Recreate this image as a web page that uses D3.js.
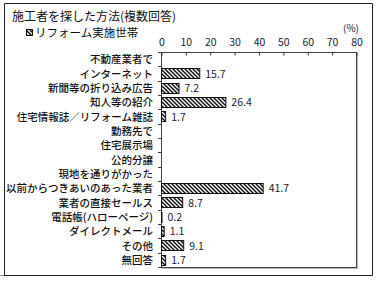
<!DOCTYPE html>
<html>
<head>
<meta charset="utf-8">
<script src="https://cdn.jsdelivr.net/npm/d3@7"></script>
<style>
  body { margin: 0; background: #fff; }
  svg { display: block; font-family: "Noto Sans CJK JP", sans-serif; }
</style>
</head>
<body>
<div id="chart"></div>
<script>
// data
const categories = [
  "不動産業者で", "インターネット", "新聞等の折り込み広告", "知人等の紹介",
  "住宅情報誌／リフォーム雑誌", "勤務先で", "住宅展示場", "公的分譲",
  "現地を通りがかった", "以前からつきあいのあった業者", "業者の直接セールス",
  "電話帳(ハローページ)", "ダイレクトメール", "その他", "無回答"
];
const values = [null, 15.7, 7.2, 26.4, 1.7, null, null, null, null, 41.7, 8.7, 0.2, 1.1, 9.1, 1.7];
const xTicks = [0, 10, 20, 30, 40, 50, 60, 70, 80];
const title = "施工者を探した方法(複数回答)";
const seriesName = "リフォーム実施世帯";

const W = 378, H = 281;
const m = { l: 161, r: 356, t: 52, b: 267 };

const svg = d3.select("#chart").append("svg")
  .attr("width", W).attr("height", H);

// hatch pattern
const defs = svg.append("defs");
const pat = defs.append("pattern")
  .attr("id", "hatch")
  .attr("patternUnits", "userSpaceOnUse")
  .attr("width", 4).attr("height", 4);
pat.append("rect").attr("width", 4).attr("height", 4).attr("fill", "#fff");
pat.append("path")
  .attr("d", "M-1,-1L5,5M-1,3L1,5M3,-1L5,1")
  .attr("stroke", "#111").attr("stroke-width", 1.5);

// outer frame
svg.append("path")
  .attr("d", `M4.5,3.5H372.5V275.5H3.5M4.5,3.5V275`)
  .attr("fill", "none").attr("stroke", "#222").attr("stroke-width", 1);
svg.append("line").attr("x1", 0).attr("x2", 3).attr("y1", 275.5).attr("y2", 275.5)
  .attr("stroke", "#999");

// title + legend
svg.append("text").attr("x", 12).attr("y", 20.5)
  .attr("font-size", 12).attr("fill", "#111").text(title);
svg.append("rect").attr("x", 26.5).attr("y", 29.5).attr("width", 6).attr("height", 6)
  .attr("fill", "url(#hatch)").attr("stroke", "#111");
svg.append("text").attr("x", 35).attr("y", 37)
  .attr("font-size", 11.5).attr("fill", "#111").text(seriesName);

// scales
const x = d3.scaleLinear().domain([0, 80]).range([m.l, m.r]);
const y = d3.scaleBand().domain(categories).range([m.t, m.b]).paddingInner(0.3).paddingOuter(0.15);

// plot frame with shadow
svg.append("path")
  .attr("d", `M${m.r + 1.5},${m.t + 1}V${m.b + 1.5}H${m.l + 1}`)
  .attr("fill", "none").attr("stroke", "#bbb").attr("stroke-width", 1);
svg.append("rect")
  .attr("x", m.l + 0.5).attr("y", m.t + 0.5)
  .attr("width", m.r - m.l).attr("height", m.b - m.t)
  .attr("fill", "none").attr("stroke", "#444").attr("stroke-width", 1);

// x axis (top)
const ax = svg.append("g")
  .attr("transform", `translate(0.5,${m.t + 0.5})`)
  .call(d3.axisTop(x).tickValues(xTicks).tickSize(-3).tickPadding(7))
  .call(g => g.select(".domain").remove());
ax.selectAll("line").attr("stroke", "#333");
ax.selectAll("text").attr("font-size", 10.5).attr("fill", "#1a1a33")
  .attr("font-family", "'Noto Sans CJK JP', sans-serif");
svg.append("text").attr("x", 351).attr("y", 32).attr("text-anchor", "middle")
  .attr("font-size", 10).attr("fill", "#1a1a33").text("(%)");

// category axis ticks at band boundaries
const step = y.step();
const y0 = y(categories[0]) - step * y.paddingInner() / 2;
svg.append("g").selectAll("line")
  .data(d3.range(categories.length + 1))
  .join("line")
  .attr("x1", m.l - 3).attr("x2", m.l + 0.5)
  .attr("y1", i => Math.round(y0 + i * step) + 0.5)
  .attr("y2", i => Math.round(y0 + i * step) + 0.5)
  .attr("stroke", "#444");

// category labels
svg.append("g").selectAll("text")
  .data(categories)
  .join("text")
  .attr("x", 153)
  .attr("y", d => y(d) + y.bandwidth() / 2 + 4)
  .attr("text-anchor", "end")
  .attr("font-size", 10.5)
  .attr("font-weight", 500)
  .attr("fill", "#111")
  .text(d => d);

// bars
const rows = categories.map((c, i) => ({ c, v: values[i] })).filter(d => d.v != null);
svg.append("g").selectAll("rect")
  .data(rows)
  .join("rect")
  .attr("x", m.l + 0.5)
  .attr("y", d => Math.round(y(d.c)) + 0.5)
  .attr("width", d => Math.max(x(d.v) - m.l, 0.5))
  .attr("height", Math.round(y.bandwidth()))
  .attr("fill", "url(#hatch)")
  .attr("stroke", "#111")
  .attr("stroke-width", 1);

// value labels
svg.append("g").selectAll("text")
  .data(rows)
  .join("text")
  .attr("x", d => x(d.v) + 6)
  .attr("y", d => y(d.c) + y.bandwidth() / 2 + 4)
  .attr("font-size", 10.5)
  .attr("fill", "#1a1a33")
  .text(d => d3.format(".1f")(d.v));
</script>
</body>
</html>
